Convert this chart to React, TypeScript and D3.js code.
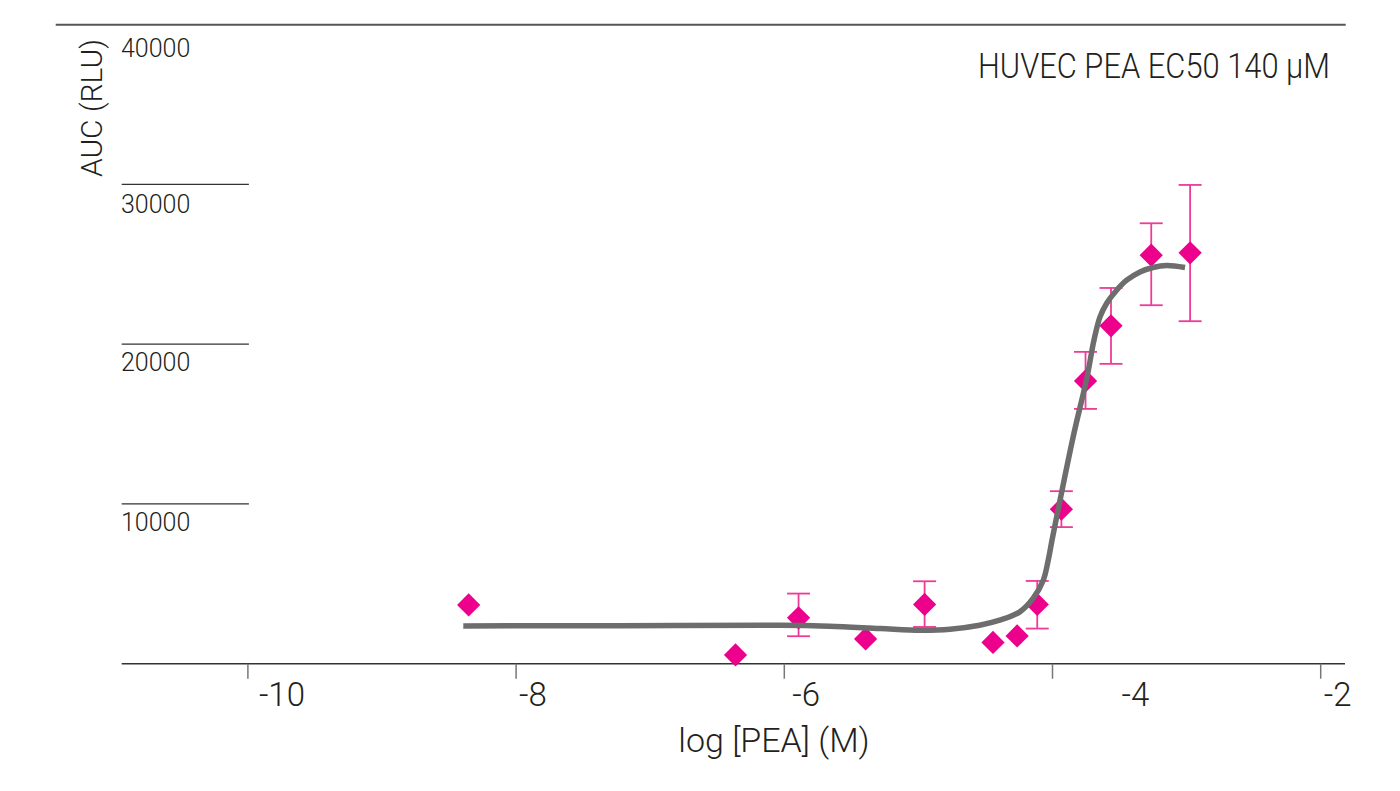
import { useEffect, useRef } from 'react';
import * as d3 from 'd3';

// measured points: log concentration vs AUC, with error bar ends (null = no bar)
const logConc = [-8.35, -6.36, -5.89, -5.39, -4.95, -4.44, -4.26, -4.11, -3.93, -3.75, -3.56, -3.26, -2.97];
const auc = [3680, 550, 2870, 1550, 3710, 1330, 1740, 3710, 9670, 17700, 21150, 25570, 25720];
const errLow = [null, null, 1720, null, 2300, null, null, 2200, 8550, 15950, 18770, 22440, 21440];
const errHigh = [null, null, 4390, null, 5160, null, null, 5180, 10800, 19520, 23520, 27570, 29970];

// fitted curve
const fitX = [-8.39, -7.22, -6.03, -5.66, -5.28, -4.98, -4.76, -4.54, -4.39, -4.24, -4.14, -4.065, -4.028, -4.0,
  -3.925, -3.836, -3.739, -3.687, -3.642, -3.592, -3.518, -3.443, -3.344, -3.247, -3.145, -3.008];
const fitY = [2366, 2379, 2410, 2347, 2203, 2097, 2160, 2410, 2723, 3243, 4100, 5227, 6479, 7731,
  10861, 14429, 17934, 20250, 21709, 22567, 23380, 24006, 24526, 24801, 24926, 24801];

const xTicks = [-10, -8, -6, -4, -2];
const yTicks = [10000, 20000, 30000, 40000];

const title = 'HUVEC PEA EC50 140 µM';
const xTitle = 'log [PEA] (M)';
const yTitle = 'AUC (RLU)';

const FONT = 'Roboto, "Noto Sans", sans-serif';
const WEIGHT = 300;
const TEXT = '#231f20';
const MAGENTA = '#ec008c';

export default function App() {
  const svgRef = useRef<SVGSVGElement>(null);

  useEffect(() => {
    const svg = d3.select(svgRef.current);
    svg.selectAll('*').remove();

    const x = d3.scaleLinear().domain([-10, -2]).range([247.4, 1320.2]);
    const y = d3.scaleLinear().domain([0, 40000]).range([663.7, 24.7]);

    // top frame line at 40000
    svg.append('line')
      .attr('x1', 55.7).attr('x2', 1345.7)
      .attr('y1', y(40000)).attr('y2', y(40000))
      .attr('stroke', '#555').attr('stroke-width', 2);

    // short grid lines left of -10
    svg.selectAll('.grid')
      .data(yTicks.filter(t => t < 40000))
      .enter().append('line')
      .attr('x1', 121.7).attr('x2', x(-10) + 1.5)
      .attr('y1', d => y(d)).attr('y2', d => y(d))
      .attr('stroke', '#333').attr('stroke-width', 1.3);

    // y tick labels hang below their line
    const yNudge: Record<number, number> = { 40000: 5.6, 30000: 1.5 };
    svg.selectAll('.ylab')
      .data(yTicks)
      .enter().append('text')
      .attr('x', 121)
      .attr('y', d => y(d) + 27 + (yNudge[d] || 0))
      .attr('font-family', FONT).attr('font-size', 25).attr('font-weight', WEIGHT)
      .attr('fill', TEXT)
      .text(d => String(d));

    // x axis
    svg.append('line')
      .attr('x1', 121.7).attr('x2', 1345)
      .attr('y1', y(0)).attr('y2', y(0))
      .attr('stroke', '#333').attr('stroke-width', 1.5);

    const xAxis = svg.append('g')
      .attr('transform', `translate(0,${y(0)})`)
      .call(d3.axisBottom(x).tickValues(xTicks).tickSize(15).tickFormat(d3.format('d')));
    xAxis.select('.domain').remove();
    xAxis.selectAll('.tick line').attr('stroke', '#777').attr('stroke-width', 1.5);
    const xNudge: Record<number, number> = { [-10]: 11, [-8]: 3, [-6]: 8, [-4]: 69, [-2]: 3 };
    xAxis.selectAll<SVGTextElement, number>('.tick text')
      .attr('text-anchor', 'start')
      .attr('x', d => xNudge[d] || 0)
      .attr('y', 42.5)
      .attr('dy', 0)
      .attr('font-family', FONT).attr('font-size', 33).attr('font-weight', WEIGHT)
      .attr('fill', TEXT)
      .text(d => String(d).replace('−', '-'));

    // error bars
    const idx = d3.range(logConc.length).filter(i => errLow[i] != null);
    const bars = svg.append('g').attr('stroke', '#ee3b97').attr('stroke-width', 1.8);
    idx.forEach(i => {
      const cx = x(logConc[i]);
      const y0 = y(errLow[i] as number);
      const y1 = y(errHigh[i] as number);
      bars.append('line').attr('x1', cx).attr('x2', cx).attr('y1', y0).attr('y2', y1);
      bars.append('line').attr('x1', cx - 11.5).attr('x2', cx + 11.5).attr('y1', y0).attr('y2', y0);
      bars.append('line').attr('x1', cx - 11.5).attr('x2', cx + 11.5).attr('y1', y1).attr('y2', y1);
    });

    // diamonds
    const diamond = d3.symbol().type(d3.symbolSquare).size(270);
    svg.selectAll('.pt')
      .data(logConc.map((v, i) => [v, auc[i]]))
      .enter().append('path')
      .attr('d', diamond)
      .attr('transform', d => `translate(${x(d[0])},${y(d[1])}) rotate(45)`)
      .attr('fill', MAGENTA);

    // fitted curve
    const line = d3.line<number>()
      .x((_, i) => x(fitX[i]))
      .y(d => y(d))
      .curve(d3.curveCatmullRom.alpha(0.5));
    svg.append('path')
      .attr('d', line(fitY))
      .attr('fill', 'none')
      .attr('stroke', '#6d6d6d')
      .attr('stroke-width', 5.5);

    // titles
    svg.append('text')
      .attr('x', 1330).attr('y', 78)
      .attr('text-anchor', 'end')
      .attr('font-family', FONT).attr('font-size', 35).attr('font-weight', WEIGHT)
      .attr('textLength', 352).attr('lengthAdjust', 'spacingAndGlyphs')
      .attr('fill', TEXT)
      .text(title);

    svg.append('text')
      .attr('x', 774).attr('y', 752)
      .attr('text-anchor', 'middle')
      .attr('font-family', FONT).attr('font-size', 34).attr('font-weight', WEIGHT)
      .attr('fill', TEXT)
      .text(xTitle);

    svg.append('text')
      .attr('transform', 'translate(102,108) rotate(-90)')
      .attr('text-anchor', 'middle')
      .attr('font-family', FONT).attr('font-size', 30).attr('font-weight', WEIGHT)
      .attr('fill', TEXT)
      .text(yTitle);
  }, []);

  return (
    <svg
      ref={svgRef}
      width={1400}
      height={791}
      style={{ position: 'absolute', left: 0, top: 0, background: '#fff' }}
    />
  );
}
